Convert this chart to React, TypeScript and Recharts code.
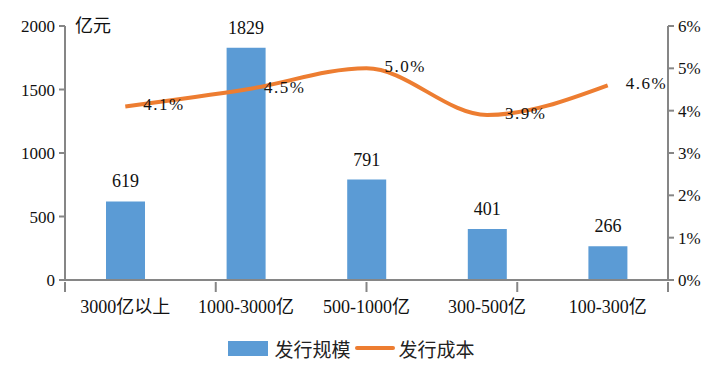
import {
  Bar,
  ComposedChart,
  LabelList,
  Legend,
  Line,
  XAxis,
  YAxis,
} from 'recharts';

const categories = ['3000亿以上', '1000-3000亿', '500-1000亿', '300-500亿', '100-300亿'];
const issueSize = [619, 1829, 791, 401, 266];
const issueCost = [4.1, 4.5, 5.0, 3.9, 4.6];
const leftTicks = [0, 500, 1000, 1500, 2000];
const rightTicks = [0, 1, 2, 3, 4, 5, 6];
const boundaryTicks = [0, 1, 2, 3, 4, 5];

const BAR = '#5b9bd5';
const LINE = '#ed7d31';
const AXIS = '#868686';
const SERIF = '"Liberation Serif", "Noto Sans CJK SC", serif';
const CJK = '"Noto Sans CJK SC", sans-serif';

const data = categories.map((name, i) => ({
  name,
  size: issueSize[i],
  cost: issueCost[i],
}));

// percentage labels sit to the right of each point
function CostLabel(props: any) {
  const { x, y, value } = props;
  return (
    <text
      x={x + 18}
      y={y}
      dominantBaseline="middle"
      fontFamily={SERIF}
      fontSize={17}
      fill="#111"
      letterSpacing={1.5}
    >
      {`${Number(value).toFixed(1)}%`}
    </text>
  );
}

// Excel-style category separators below the x axis
function BoundaryTick(props: any) {
  const { x, y } = props;
  return <line x1={x} y1={y - 4} x2={x} y2={y + 6} stroke={AXIS} strokeWidth={2} />;
}

function LegendContent() {
  return (
    <div
      style={{
        display: 'flex',
        justifyContent: 'center',
        alignItems: 'center',
        fontFamily: CJK,
        fontSize: 19,
        color: '#222',
        height: 38,
        paddingTop: 4,
        paddingRight: 14,
      }}
    >
      <span style={{ width: 40, height: 15, background: BAR, marginRight: 6 }} />
      <span>发行规模</span>
      <span style={{ width: 40, height: 4, background: LINE, margin: '0 4px', borderRadius: 2 }} />
      <span>发行成本</span>
    </div>
  );
}

export default function App() {
  return (
    <div style={{ position: 'absolute', left: 0, top: 0, width: 717, height: 367, background: '#fff' }}>
      <ComposedChart
        width={717}
        height={367}
        data={data}
        margin={{ top: 26, right: 0, left: 0, bottom: 2 }}
        barCategoryGap="34%"
      >
        <XAxis
          xAxisId="bounds"
          type="number"
          domain={[0, 5]}
          ticks={boundaryTicks}
          interval={0}
          allowDataOverflow
          height={8}
          axisLine={{ stroke: AXIS, strokeWidth: 2 }}
          tickLine={false}
          tick={<BoundaryTick />}
          tickMargin={0}
        />
        <XAxis
          xAxisId="cat"
          dataKey="name"
          height={37}
          axisLine={false}
          tickLine={false}
          tick={{ fill: '#111', fontSize: 18, fontFamily: SERIF }}
          tickMargin={6}
          interval={0}
        />
        <YAxis
          yAxisId="left"
          domain={[0, 2000]}
          ticks={leftTicks}
          width={65}
          axisLine={{ stroke: AXIS, strokeWidth: 2 }}
          tickLine={{ stroke: AXIS, strokeWidth: 2 }}
          tickSize={6}
          tickMargin={4}
          tick={{ fill: '#111', fontSize: 17, fontFamily: SERIF }}
          label={{
            value: '亿元',
            position: 'insideTopLeft',
            dx: 70,
            dy: -12,
            fill: '#111',
            fontSize: 18,
            fontFamily: CJK,
          }}
        />
        <YAxis
          yAxisId="right"
          orientation="right"
          domain={[0, 6]}
          ticks={rightTicks}
          width={49}
          axisLine={{ stroke: AXIS, strokeWidth: 2 }}
          tickLine={{ stroke: AXIS, strokeWidth: 2 }}
          tickSize={6}
          tickMargin={4}
          tickFormatter={(v: number) => `${v}%`}
          tick={{ fill: '#111', fontSize: 17, fontFamily: SERIF }}
        />
        <Legend verticalAlign="bottom" height={40} content={<LegendContent />} />
        <Bar
          xAxisId="cat"
          yAxisId="left"
          dataKey="size"
          name="发行规模"
          fill={BAR}
          isAnimationActive={false}
        >
          <LabelList
            dataKey="size"
            position="top"
            offset={14}
            fill="#111"
            fontSize={18}
            fontFamily={SERIF}
          />
        </Bar>
        <Line
          xAxisId="cat"
          yAxisId="right"
          dataKey="cost"
          name="发行成本"
          type="monotone"
          stroke={LINE}
          strokeWidth={4}
          dot={false}
          isAnimationActive={false}
        >
          <LabelList dataKey="cost" content={<CostLabel />} />
        </Line>
      </ComposedChart>
    </div>
  );
}
